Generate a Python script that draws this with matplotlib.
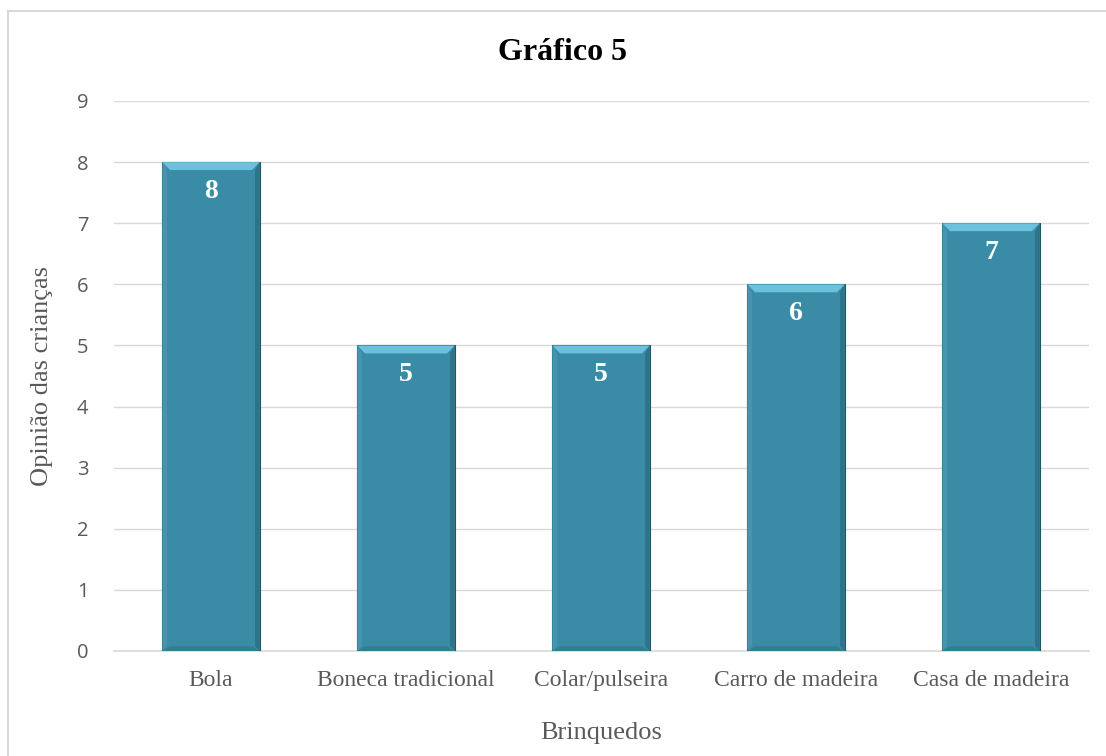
import matplotlib
matplotlib.use("Agg")
import matplotlib.pyplot as plt
from matplotlib.patches import Polygon
from matplotlib.lines import Line2D

categories = ["Bola", "Boneca tradicional", "Colar/pulseira", "Carro de madeira", "Casa de madeira"]
values = [8, 5, 5, 6, 7]
yticks = [0, 1, 2, 3, 4, 5, 6, 7, 8, 9]
title = "Gráfico 5"
xlabel = "Brinquedos"
ylabel = "Opinião das crianças"

W, H = 1106, 756
fig = plt.figure(figsize=(W / 100, H / 100), dpi=100)
ax = fig.add_axes([113.5 / W, 1 - 651 / H, 975 / W, 550 / H])

serif = "Liberation Serif"
sans = "Open Sans"
gray = "#595959"
grid = "#d9d9d9"

x = list(range(len(categories)))
bars = ax.bar(x, values, width=0.5, color="#3a8ca6", edgecolor="#1f5566",
              linewidth=0.8, zorder=3)

ax.set_xlim(-0.5, len(categories) - 0.5)
ax.set_ylim(0, 9)
ax.set_yticks(yticks)
ax.set_yticklabels([str(t) for t in yticks], fontfamily=sans, fontsize=14.5, color=gray)
ax.set_xticks(x)
ax.set_xticklabels(categories, fontfamily=serif, fontsize=17, color=gray)
ax.tick_params(axis="y", length=0, pad=18)
ax.tick_params(axis="x", length=0, pad=14)
ax.yaxis.grid(True, color=grid, linewidth=1.0, zorder=0)
ax.set_axisbelow(True)
for s in ["top", "right", "left"]:
    ax.spines[s].set_visible(False)
ax.spines["bottom"].set_color(grid)
ax.spines["bottom"].set_linewidth(1.2)

# bevel effect derived from each bar's geometry
dx, dy = 0.04, 0.13
for b in bars:
    x0, y0 = b.get_x(), b.get_y()
    w, h = b.get_width(), b.get_height()
    x1, y1 = x0 + w, y0 + h
    top = Polygon([(x0, y1), (x1, y1), (x1 - dx, y1 - dy), (x0 + dx, y1 - dy)],
                  closed=True, facecolor="#6cc2dc", edgecolor="none", zorder=4)
    right = Polygon([(x1, y1), (x1, y0), (x1 - dx * 0.6, y0 + dy * 0.6), (x1 - dx * 0.6, y1 - dy)],
                    closed=True, facecolor="#2f7389", edgecolor="none", zorder=4)
    left = Polygon([(x0, y1), (x0, y0), (x0 + dx * 0.6, y0 + dy * 0.6), (x0 + dx * 0.6, y1 - dy)],
                   closed=True, facecolor="#4495ad", edgecolor="none", zorder=4)
    bottom = Polygon([(x0, y0), (x1, y0), (x1 - dx, y0 + dy * 0.6), (x0 + dx, y0 + dy * 0.6)],
                     closed=True, facecolor="#327d94", edgecolor="none", zorder=4)
    for p in (left, bottom, right, top):
        ax.add_patch(p)
    ax.text(x0 + w / 2, y1 - 0.48, str(int(h)), ha="center", va="center",
            fontfamily=serif, fontweight="bold", fontsize=20, color="white", zorder=5)

ax.set_xlabel(xlabel, fontfamily=serif, fontsize=19, color=gray, labelpad=22)
ax.set_ylabel(ylabel, fontfamily=serif, fontsize=19, color=gray, labelpad=17)

fig.text(562 / W, 1 - 52 / H, title, ha="center", va="center",
         fontfamily=serif, fontweight="bold", fontsize=23, color="black")

# chart border (left and top visible)
fig.add_artist(Line2D([7.5 / W, 7.5 / W], [0, 1 - 10.5 / H], color=grid, linewidth=1.5))
fig.add_artist(Line2D([7.5 / W, 1], [1 - 10.5 / H, 1 - 10.5 / H], color=grid, linewidth=1.5))

fig.savefig("out.png", dpi=100)
